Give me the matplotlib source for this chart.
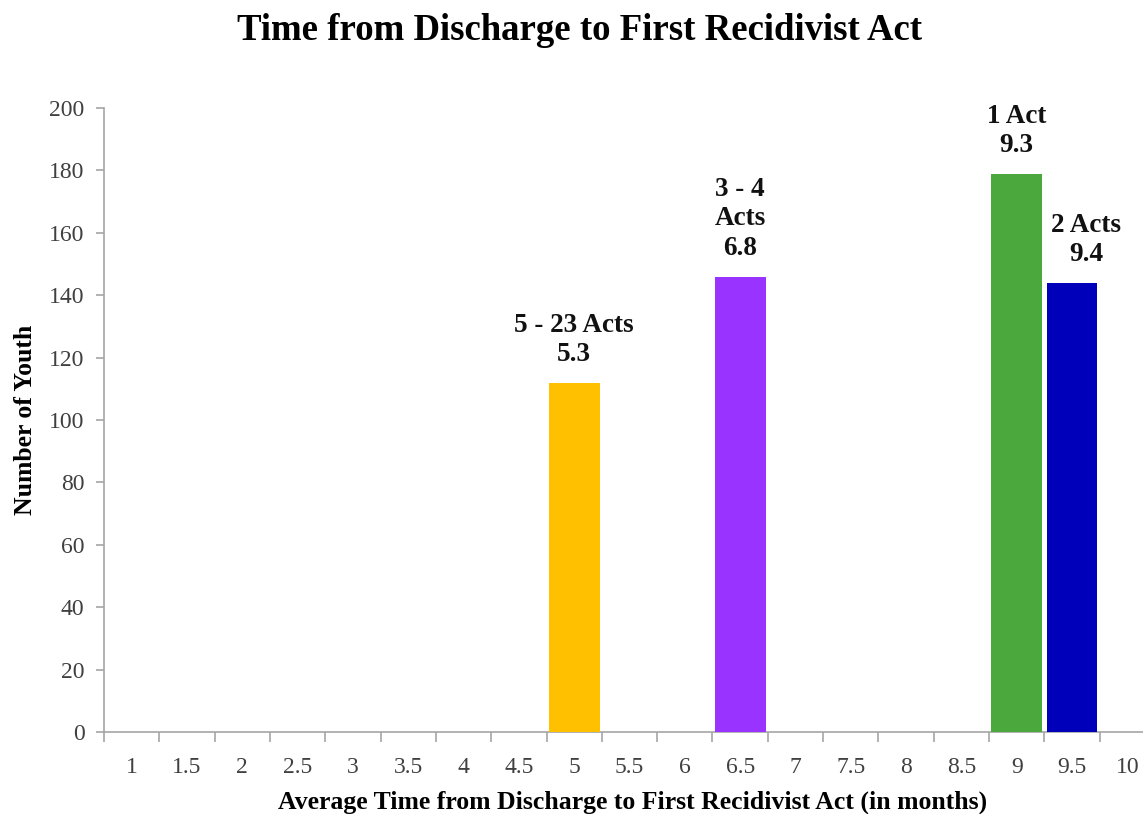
import matplotlib
matplotlib.use("Agg")
import matplotlib.pyplot as plt
from matplotlib.ticker import FixedLocator, MultipleLocator

plt.rcParams['font.family'] = ['Liberation Serif', 'DejaVu Serif']

# x categories (months) and the bars that sit on them
categories = ["1", "1.5", "2", "2.5", "3", "3.5", "4", "4.5", "5", "5.5",
              "6", "6.5", "7", "7.5", "8", "8.5", "9", "9.5", "10"]
bar_cats = ["5", "6.5", "9", "9.5"]
youth = [112, 146, 179, 144]
bar_labels = ["5 - 23 Acts\n5.3", "3 - 4\nActs\n6.8", "1 Act\n9.3", "2 Acts\n9.4"]
bar_colors = ["#ffc000", "#9933ff", "#4aa83c", "#0000bb"]
label_dx = [0, 0, 0, 10]

fig = plt.figure(figsize=(11.43, 8.14), dpi=100)
ax = fig.add_axes([0.091, 0.1007, 0.9195, 0.7666])

xpos = [categories.index(c) for c in bar_cats]
bars = ax.bar(xpos, youth, width=0.92, color=bar_colors, zorder=3)

for b, lab, dx in zip(bars, bar_labels, label_dx):
    ax.annotate(lab, (b.get_x() + b.get_width() / 2, b.get_height()),
                xytext=(dx, 11), textcoords="offset points",
                ha="center", va="bottom", fontsize=19.5, fontweight="bold",
                linespacing=1.25, color="#111111")

ax.set_xlim(-0.5, len(categories) - 0.5)
ax.set_ylim(0, 200)
ax.set_xticks(range(len(categories)))
ax.set_xticklabels(categories)
ax.xaxis.set_minor_locator(FixedLocator([i - 0.5 for i in range(len(categories) + 1)]))
ax.tick_params(axis="x", which="major", length=0, pad=18, labelsize=17, labelcolor="#404040")
ax.tick_params(axis="x", which="minor", length=7, color="#a6a6a6", width=1.2)
ax.yaxis.set_major_locator(MultipleLocator(20))
ax.tick_params(axis="y", length=6, color="#a6a6a6", width=1.2, labelsize=17,
               labelcolor="#404040", pad=8)

for s in ["top", "right"]:
    ax.spines[s].set_visible(False)
for s in ["left", "bottom"]:
    ax.spines[s].set_color("#a6a6a6")
    ax.spines[s].set_linewidth(1.2)

ax.set_ylabel("Number of Youth", fontsize=18.5, fontweight="bold", labelpad=9)
fig.text(0.553, 0.0147, "Average Time from Discharge to First Recidivist Act (in months)",
         ha="center", va="center", fontsize=18.5, fontweight="bold")
fig.text(0.507, 0.962, "Time from Discharge to First Recidivist Act",
         ha="center", va="center", fontsize=26.5, fontweight="bold")

fig.savefig("out.png", dpi=100)
